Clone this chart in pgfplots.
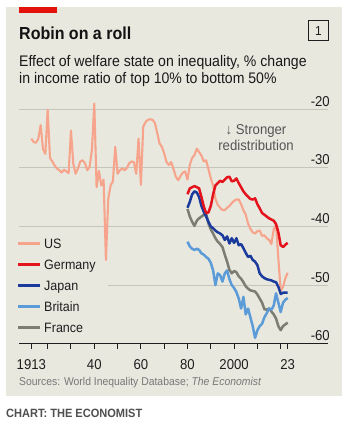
\documentclass[border=0pt]{standalone}
\usepackage{fontspec}
\setmainfont[FakeStretch=0.92]{Liberation Sans}
\usepackage{pgfplots}
\pgfplotsset{compat=1.18}
\definecolor{bg}{HTML}{E9E8DF}
\definecolor{ecored}{HTML}{E3120B}
\definecolor{usc}{HTML}{F6A48B}
\definecolor{dec}{HTML}{E3121B}
\definecolor{jpc}{HTML}{1A3A9C}
\definecolor{gbc}{HTML}{5B9BD8}
\definecolor{frc}{HTML}{7B7C72}
\definecolor{gridc}{HTML}{C6C5BC}
\definecolor{axisc}{HTML}{1E1E1E}
\definecolor{annc}{HTML}{555555}
\definecolor{srcc}{HTML}{777777}
\definecolor{chartc}{HTML}{4F4F4F}

\pgfplotstableread{
year val
1913 -25.0
1914 -25.6
1915 -25.7
1916 -25.0
1917 -22.7
1918 -26.8
1919 -27.6
1920 -20.1
1921 -28.3
1922 -28.9
1923 -29.6
1924 -30.1
1925 -30.4
1926 -30.8
1927 -30.3
1928 -30.6
1929 -30.9
1930 -23.6
1931 -29.3
1932 -31.0
1933 -30.1
1934 -28.9
1935 -28.7
1936 -29.2
1937 -30.4
1938 -29.8
1939 -26.9
1940 -19.0
1941 -33.3
1942 -30.5
1943 -33.0
1944 -32.0
1945 -45.7
1946 -35.3
1947 -33.0
1948 -32.3
1949 -26.4
1950 -31.0
1951 -30.4
1952 -30.1
1953 -30.4
1954 -30.0
1955 -29.2
1956 -28.9
1957 -29.0
1958 -31.0
1959 -25.0
1960 -32.9
1961 -23.0
1962 -22.2
1963 -21.8
1964 -21.7
1965 -21.8
1966 -22.3
1967 -24.0
1968 -25.8
1969 -26.4
1970 -27.5
1971 -29.0
1972 -29.5
1973 -29.0
1974 -30.2
1975 -31.5
1976 -32.1
1977 -31.4
1978 -30.8
1979 -30.6
1980 -32.0
1981 -29.5
1982 -28.3
1983 -27.8
1984 -26.7
1985 -27.3
1986 -27.9
1987 -28.9
1988 -28.7
1989 -30.2
1990 -31.8
1991 -33.0
1992 -35.3
1993 -36.3
1994 -36.8
1995 -37.2
1996 -37.2
1997 -36.8
1998 -36.5
1999 -36.0
2000 -35.6
2001 -35.4
2002 -35.4
2003 -36.2
2004 -37.2
2005 -38.0
2006 -39.5
2007 -40.4
2008 -41.0
2009 -41.2
2010 -40.8
2011 -40.7
2012 -41.6
2013 -41.5
2014 -42.0
2015 -42.3
2016 -43.0
2017 -40.5
2018 -39.7
2019 -45.5
2020 -51.0
2021 -50.3
2022 -48.8
2023 -47.9
}\usdata

\pgfplotstableread{
year val
1980 -34.5
1981 -33.5
1982 -33.3
1983 -33.1
1984 -33.3
1985 -33.5
1986 -35.0
1987 -36.6
1988 -37.7
1989 -37.6
1990 -36.5
1991 -34.5
1992 -33.0
1993 -32.6
1994 -32.2
1995 -32.4
1996 -32.0
1997 -31.6
1998 -31.5
1999 -32.3
2000 -32.2
2001 -31.8
2002 -32.6
2003 -33.3
2004 -34.0
2005 -34.5
2006 -34.9
2007 -35.3
2008 -35.4
2009 -35.2
2010 -36.2
2011 -36.9
2012 -37.7
2013 -38.0
2014 -38.3
2015 -38.6
2016 -38.8
2017 -39.0
2018 -39.6
2019 -41.0
2020 -43.2
2021 -43.5
2022 -43.1
2023 -42.8
}\dedata

\pgfplotstableread{
year val
1980 -36.8
1981 -35.8
1982 -34.5
1983 -34.0
1984 -34.2
1985 -35.0
1986 -36.5
1987 -37.5
1988 -38.3
1989 -39.2
1990 -40.0
1991 -40.3
1992 -40.7
1993 -41.0
1994 -41.2
1995 -41.5
1996 -42.3
1997 -41.7
1998 -42.9
1999 -42.0
2000 -42.8
2001 -42.0
2002 -43.2
2003 -43.0
2004 -43.7
2005 -44.5
2006 -45.2
2007 -45.0
2008 -45.7
2009 -46.0
2010 -46.6
2011 -48.0
2012 -48.5
2013 -48.8
2014 -49.0
2015 -49.1
2016 -49.2
2017 -49.4
2018 -49.5
2019 -50.3
2020 -51.5
2021 -51.3
2022 -51.3
2023 -51.3
}\jpdata

\pgfplotstableread{
year val
1980 -42.6
1981 -43.4
1982 -43.8
1983 -44.0
1984 -43.8
1985 -44.0
1986 -44.6
1987 -44.8
1988 -45.2
1989 -45.5
1990 -46.2
1991 -47.5
1992 -50.0
1993 -48.0
1994 -48.3
1995 -49.4
1996 -48.0
1997 -47.5
1998 -49.0
1999 -50.0
2000 -50.5
2001 -51.2
2002 -52.3
2003 -54.0
2004 -52.0
2005 -55.0
2006 -54.0
2007 -55.5
2008 -57.0
2009 -59.0
2010 -57.7
2011 -57.0
2012 -56.6
2013 -55.5
2014 -54.8
2015 -54.0
2016 -54.2
2017 -53.5
2018 -51.4
2019 -53.0
2020 -54.6
2021 -53.0
2022 -52.5
2023 -52.2
}\gbdata

\pgfplotstableread{
year val
1980 -37.0
1981 -38.3
1982 -39.2
1983 -39.9
1984 -39.0
1985 -38.6
1986 -38.3
1987 -38.0
1988 -37.8
1989 -39.5
1990 -40.5
1991 -41.2
1992 -42.0
1993 -42.6
1994 -43.0
1995 -43.5
1996 -44.8
1997 -46.0
1998 -47.4
1999 -48.0
2000 -47.6
2001 -47.8
2002 -48.5
2003 -48.9
2004 -49.5
2005 -50.2
2006 -50.6
2007 -50.9
2008 -51.0
2009 -51.1
2010 -51.6
2011 -52.3
2012 -53.0
2013 -54.1
2014 -54.2
2015 -54.0
2016 -54.5
2017 -55.0
2018 -55.7
2019 -57.0
2020 -57.7
2021 -57.0
2022 -56.7
2023 -56.4
}\frdata

\begin{document}
\begin{tikzpicture}[x=1pt,y=1pt]
\fill[white] (0,0) rectangle (355,425);
\fill[bg] (6,29) rectangle (342,418);
\fill[ecored] (19,412) rectangle (57,418);
\node[anchor=base west, inner sep=0pt, font=\fontsize{17.4}{20}\selectfont\bfseries, text=black!93] at (19,385.7) {Robin on a roll};
\draw[line width=1pt, axisc] (308.5,384.5) rectangle (328.5,404);
\node[inner sep=0pt, font=\fontsize{13}{14}\selectfont, text=axisc] at (318.5,394.2) {1};
\node[anchor=base west, inner sep=0pt, font=\fontsize{15.3}{17}\selectfont, text=black!90] at (19,358.3) {Effect of welfare state on inequality, \% change};
\node[anchor=base west, inner sep=0pt, font=\fontsize{15.3}{17}\selectfont, text=black!90] at (19,341) {in income ratio of top 10\% to bottom 50\%};

\begin{axis}[
  at={(19pt,81.3pt)}, anchor=south west,
  scale only axis, width=309pt, height=234.4pt,
  xmin=1907.7, xmax=2040.3, ymin=-60, ymax=-20,
  clip=false,
  axis x line*=bottom, axis y line*=right,
  x axis line style={draw=axisc, line width=1.1pt, -},
  y axis line style={draw=none},
  xtick={1913,1940,1960,1980,2000,2023},
  xticklabels={1913,40,60,80,2000,23},
  minor xtick={1920,1930,1950,1970,1990,2010,2020},
  tick align=outside,
  major tick length=5pt, minor tick length=5pt,
  tick style={color=axisc, line width=1pt},
  ytick={-60,-50,-40,-30,-20},
  yticklabels={-60,-50,-40,-30,-20},
  ytick style={draw=none},
  yticklabel style={anchor=base east, yshift=3pt, xshift=-3pt, inner sep=0pt},
  xticklabel style={anchor=base, inner sep=0pt, yshift=-20.6pt},
  tick label style={font=\fontsize{14.3}{16}\selectfont, text=axisc},
  /pgf/number format/assume math mode=true,
]
\addplot[gridc, line width=0.9pt, forget plot] coordinates {(1907.7,-20) (2040.3,-20)};
\addplot[gridc, line width=0.9pt, forget plot] coordinates {(1907.7,-30) (2040.3,-30)};
\addplot[gridc, line width=0.9pt, forget plot] coordinates {(1907.7,-40) (2040.3,-40)};
\addplot[gridc, line width=0.9pt, forget plot] coordinates {(1945.9,-50) (2040.3,-50)};
\addplot[usc, line width=2.1pt, line join=round] table[x=year,y=val] {\usdata};
\addplot[frc, line width=2.5pt, line join=round] table[x=year,y=val] {\frdata};
\addplot[gbc, line width=2.5pt, line join=round] table[x=year,y=val] {\gbdata};
\addplot[jpc, line width=2.5pt, line join=round] table[x=year,y=val] {\jpdata};
\addplot[dec, line width=2.5pt, line join=round] table[x=year,y=val] {\dedata};
\end{axis}

\node[inner sep=0pt, anchor=base, font=\fontsize{14.3}{16}\selectfont, text=annc] at (256,290.7) {↓ Stronger};
\node[inner sep=0pt, anchor=base, font=\fontsize{14.3}{16}\selectfont, text=annc] at (256,274.3) {redistribution};

\draw[usc, line width=3pt] (18,181.7) -- (40,181.7);
\draw[dec, line width=3pt] (18,160.7) -- (40,160.7);
\draw[jpc, line width=3pt] (18,139.3) -- (40,139.3);
\draw[gbc, line width=3pt] (18,118.3) -- (40,118.3);
\draw[frc, line width=3pt] (18,97.3) -- (40,97.3);
\begin{scope}[every node/.style={anchor=base west, inner sep=0pt, font=\fontsize{13.6}{16}\selectfont, text=axisc}]
\node at (44,176.6) {US};
\node at (44,155.6) {Germany};
\node at (44,134.2) {Japan};
\node at (44,113.2) {Britain};
\node at (44,92.2) {France};
\end{scope}

\node[anchor=base west, inner sep=0pt, font=\fontsize{11.3}{13}\selectfont, text=srcc] at (19,39) {Sources: World Inequality Database; \textit{The Economist}};
\node[anchor=base west, inner sep=0pt, font=\fontsize{12}{13}\selectfont\bfseries, text=chartc] at (6,7.3) {CHART: THE ECONOMIST};
\end{tikzpicture}
\end{document}
